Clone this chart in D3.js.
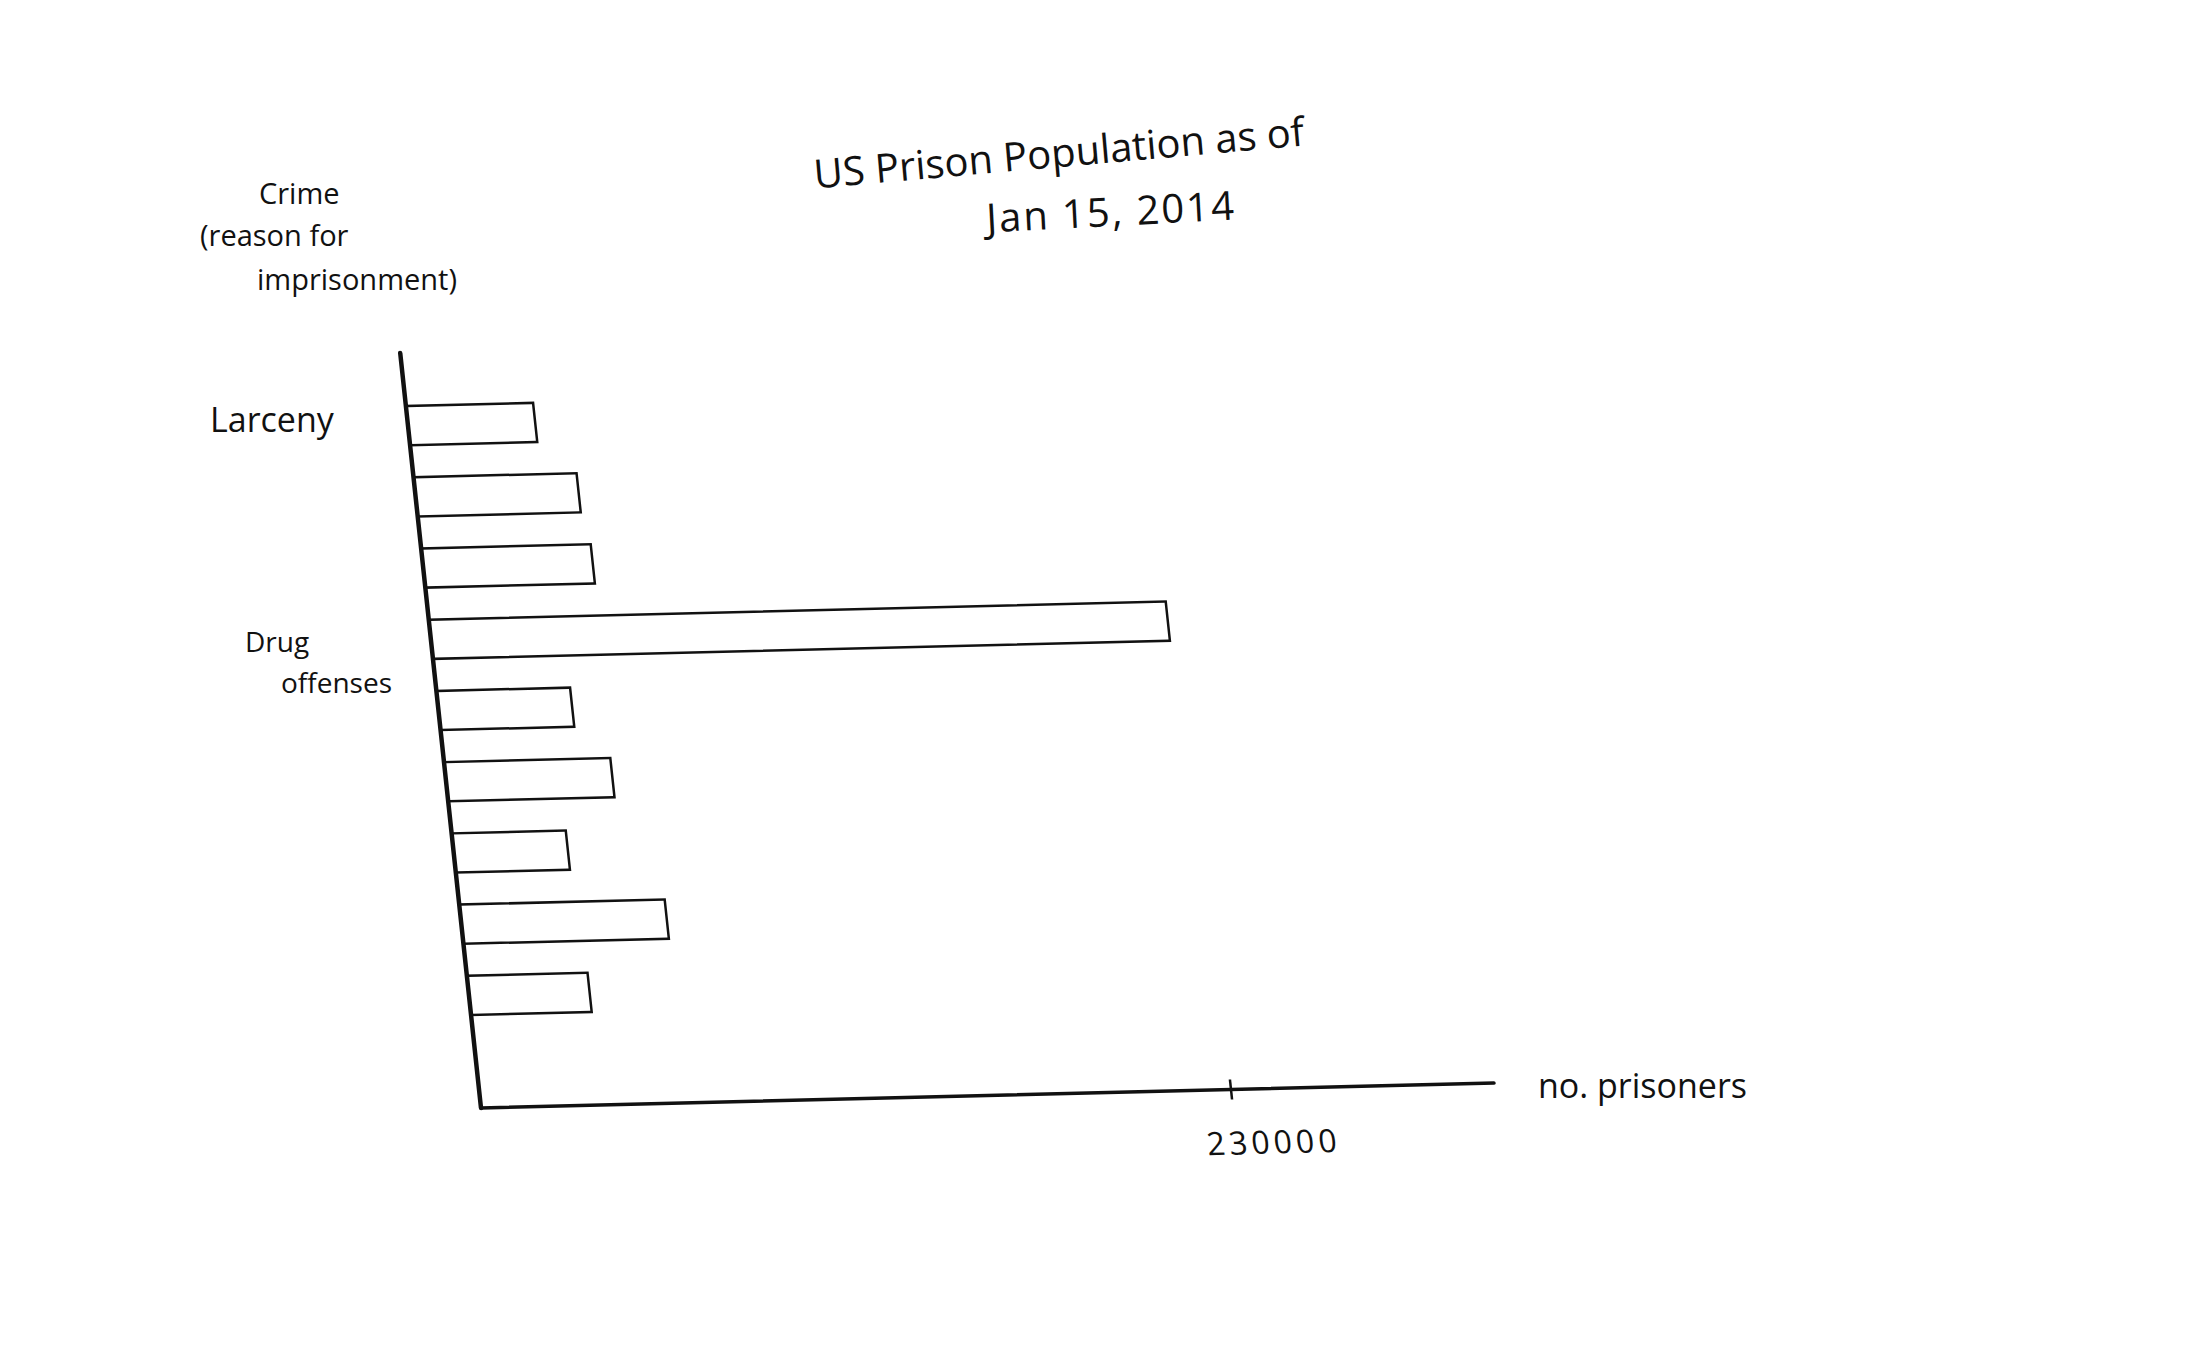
<!DOCTYPE html>
<html>
<head>
<meta charset="utf-8">
<script src="https://cdn.jsdelivr.net/npm/d3@7"></script>
<style>
  html, body { margin: 0; padding: 0; background: #fff; }
  svg { display: block; }
  text { font-family: "Open Sans", "DejaVu Sans", sans-serif; fill: #111; }
</style>
</head>
<body>
<svg id="chart" width="2199" height="1362"></svg>
<script>
// ---- data ----
const categories = ["Larceny", "c2", "c3", "Drug offenses", "c5", "c6", "c7", "c8", "c9"];
const categoryLabels = ["Larceny", "", "", "Drug offenses", "", "", "", "", ""];
const prisoners = [39000, 50000, 52000, 226000, 41000, 51000, 35000, 63000, 37000];
const xTicks = [230000];
const xTickLabels = ["230000"];
const titleLines = ["US Prison Population as of", "Jan 15, 2014"];
const yTitleLines = ["Crime", "(reason for", "imprisonment)"];
const xTitle = "no. prisoners";

const svg = d3.select("#chart");
const W = 2199, H = 1362;
svg.append("rect").attr("width", W).attr("height", H).attr("fill", "#fff");

// plot group: origin at the axes' meeting point, slightly skewed like the hand-drawn axes
const plot = svg.append("g")
  .attr("transform", "matrix(1,-0.0247,0.107,1,481,1108)");

const x = d3.scaleLinear().domain([0, 230000]).range([0, 750]);
const y = d3.scaleBand().domain(categories).range([-718, -77])
  .paddingInner(0.45).paddingOuter(0.225);

// bars (open outlines)
plot.selectAll("rect.bar").data(categories).join("rect")
  .attr("class", "bar")
  .attr("x", 0)
  .attr("y", d => y(d))
  .attr("width", (d, i) => x(prisoners[i]))
  .attr("height", y.bandwidth())
  .attr("fill", "none")
  .attr("stroke", "#111")
  .attr("stroke-width", 2.5);

// x axis
const xAxis = d3.axisBottom(x).tickValues(xTicks).tickFormat((d, i) => xTickLabels[i]).tickSize(0);
const gx = plot.append("g").call(xAxis);
gx.select(".domain").remove();
gx.selectAll(".tick text").remove();
plot.append("line").attr("x1", 0).attr("y1", 0).attr("x2", 1013).attr("y2", 0)
  .attr("stroke", "#111").attr("stroke-width", 3.5).attr("stroke-linecap", "round");
plot.selectAll("line.xtick").data(xTicks).join("line")
  .attr("class", "xtick")
  .attr("x1", d => x(d)).attr("x2", d => x(d))
  .attr("y1", -10).attr("y2", 10)
  .attr("stroke", "#111").attr("stroke-width", 2.5);
plot.selectAll("text.xtl").data(xTicks).join("text")
  .attr("class", "xtl")
  .attr("x", d => x(d) - 30).attr("y", 65)
  .attr("font-size", 32).attr("letter-spacing", 4)
  .text((d, i) => xTickLabels[i]);

// y axis
plot.append("line").attr("x1", 0).attr("y1", 0).attr("x2", 0).attr("y2", -755)
  .attr("stroke", "#111").attr("stroke-width", 4.5).attr("stroke-linecap", "round");

// category labels (outside the skewed group)
svg.append("text").attr("x", 210).attr("y", 432).attr("font-size", 34).text(categoryLabels[0]);
const drug = categoryLabels[3].split(" ");
svg.append("text").attr("x", 245).attr("y", 652).attr("font-size", 28).text(drug[0]);
svg.append("text").attr("x", 281).attr("y", 693).attr("font-size", 28).text(drug[1]);

// y title
const yStarts = [259, 200, 257];
const yBase = [204, 246, 290];
yTitleLines.forEach((t, i) => {
  svg.append("text").attr("x", yStarts[i]).attr("y", yBase[i]).attr("font-size", 29).text(t);
});

// x title
svg.append("text").attr("x", 1538).attr("y", 1098).attr("font-size", 34).text(xTitle);

// title
svg.append("text").attr("x", 1059).attr("y", 167).attr("font-size", 40)
  .attr("text-anchor", "middle").attr("transform", "rotate(-5,1059,154)").text(titleLines[0]);
svg.append("text").attr("x", 1111).attr("y", 226).attr("font-size", 40)
  .attr("text-anchor", "middle").attr("letter-spacing", 2).attr("transform", "rotate(-3,1111,212)").text(titleLines[1]);
</script>
</body>
</html>
